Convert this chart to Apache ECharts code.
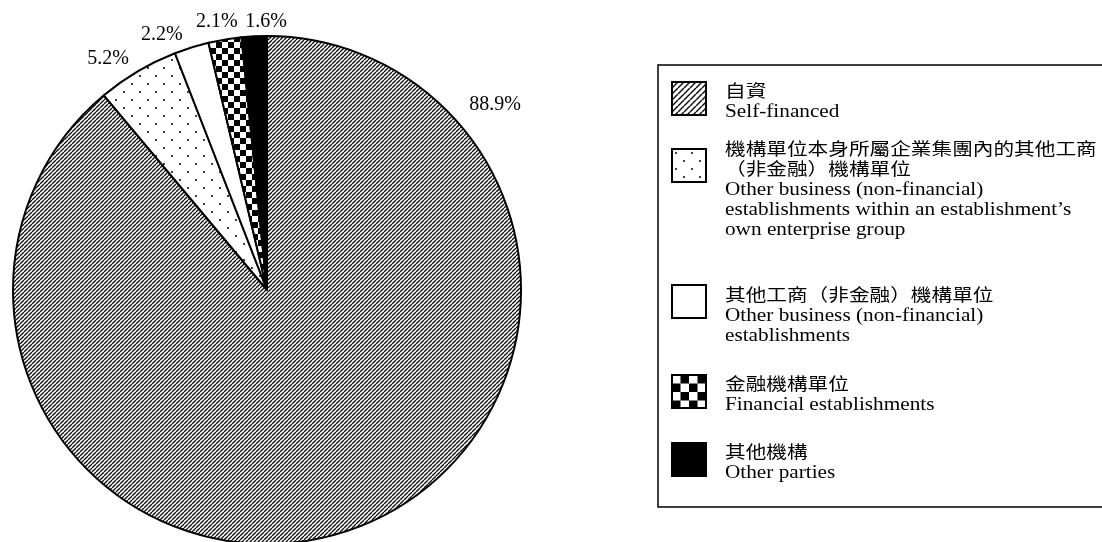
<!DOCTYPE html>
<html>
<head>
<meta charset="utf-8">
<script src="https://cdn.jsdelivr.net/npm/echarts@6/dist/echarts.min.js"></script>
<style>
  html, body { margin: 0; padding: 0; background: #fff; }
  #chart { width: 1102px; height: 542px; }
</style>
</head>
<body>
<div id="chart"></div>
<script>
// slices, clockwise from 12 o'clock
var sliceNames = ['Self-financed', 'Other business within group', 'Other business', 'Financial establishments', 'Other parties'];
var shares = [88.9, 5.2, 2.2, 2.1, 1.6];
var legendLines = [
    ['自資', 'Self-financed'],
    ['機構單位本身所屬企業集團內的其他工商', '（非金融）機構單位', 'Other business (non-financial)', 'establishments within an establishment’s', 'own enterprise group'],
    ['其他工商（非金融）機構單位', 'Other business (non-financial)', 'establishments'],
    ['金融機構單位', 'Financial establishments'],
    ['其他機構', 'Other parties']
];

var CX = 267, CY = 290, R = 254;
// label spots: [angle clockwise from top, distance / radius]
var labelSpots = [[51, 1.156], [325.5, 1.104], [337.6, 1.086], [349.4, 1.073], [359.8, 1.055]];
// legend rows: icon top, first text line centre
var legendRows = [[82, 92], [149, 150], [285, 296], [375, 385], [443, 453]];
var FONT = '"Liberation Serif", "Noto Sans CJK TC", serif';

function tile(size, draw) {
    var c = document.createElement('canvas');
    c.width = size; c.height = size;
    var ctx = c.getContext('2d');
    ctx.fillStyle = '#fff';
    ctx.fillRect(0, 0, size, size);
    draw(ctx, size);
    return { image: c, repeat: 'repeat' };
}
function hatch(gap, lw) {
    return tile(gap, function (ctx, s) {
        ctx.strokeStyle = '#111';
        ctx.lineWidth = lw;
        for (var k = -s; k <= s; k += s) {
            ctx.beginPath();
            ctx.moveTo(k, s);
            ctx.lineTo(k + s, 0);
            ctx.stroke();
        }
    });
}
function dots(s) {
    return tile(s, function (ctx, s) {
        ctx.fillStyle = '#000';
        [[s / 4, s / 4], [s * 3 / 4, s * 3 / 4]].forEach(function (p) {
            ctx.beginPath();
            ctx.arc(p[0], p[1], 1.0, 0, Math.PI * 2);
            ctx.fill();
        });
    });
}
function checker(sq) {
    return tile(sq * 2, function (ctx) {
        ctx.fillStyle = '#000';
        ctx.fillRect(sq, 0, sq, sq);
        ctx.fillRect(0, sq, sq, sq);
    });
}

var pieFills = [hatch(4, 1.3), dots(16), '#fff', checker(6), '#000'];
var iconFills = [hatch(6, 1.5), dots(16), '#fff', checker(8.5), '#000'];

var chart = echarts.init(document.getElementById('chart'));

var graphics = [{
    type: 'rect',
    shape: { x: 658, y: 65, width: 460, height: 442 },
    style: { fill: 'none', stroke: '#000', lineWidth: 1.5 }
}];
legendLines.forEach(function (lines, i) {
    var row = legendRows[i];
    graphics.push({
        type: 'rect',
        x: 672, y: row[0],
        shape: { x: 0, y: 0, width: 34, height: 33 },
        style: { fill: iconFills[i], stroke: '#000', lineWidth: 2 }
    });
    lines.forEach(function (t, j) {
        var cjk = /[\u3000-\u9fff\uff00-\uffef]/.test(t);
        graphics.push({
            type: 'text',
            x: 725, y: row[1] + j * 20,
            scaleX: 1.18,
            style: {
                text: t,
                fontFamily: FONT,
                fontSize: cjk ? 17.5 : 18,
                fill: '#000',
                align: 'left',
                verticalAlign: 'middle'
            }
        });
    });
});

chart.setOption({
    animation: false,
    backgroundColor: '#fff',
    series: [{
        type: 'pie',
        center: [CX, CY],
        radius: R,
        startAngle: 90,
        clockwise: true,
        avoidLabelOverlap: false,
        silent: true,
        itemStyle: { borderColor: '#000', borderWidth: 2 },
        label: {
            show: true,
            position: 'outside',
            formatter: '{c}%',
            fontFamily: FONT,
            fontSize: 20,
            color: '#000'
        },
        labelLine: { show: false },
        labelLayout: function (p) {
            var s = labelSpots[p.dataIndex];
            var a = s[0] * Math.PI / 180;
            return {
                x: CX + R * s[1] * Math.sin(a),
                y: CY - R * s[1] * Math.cos(a),
                align: 'center',
                verticalAlign: 'middle'
            };
        },
        data: shares.map(function (v, i) {
            return { name: sliceNames[i], value: v, itemStyle: { color: pieFills[i] } };
        })
    }],
    graphic: graphics
});
</script>
</body>
</html>
